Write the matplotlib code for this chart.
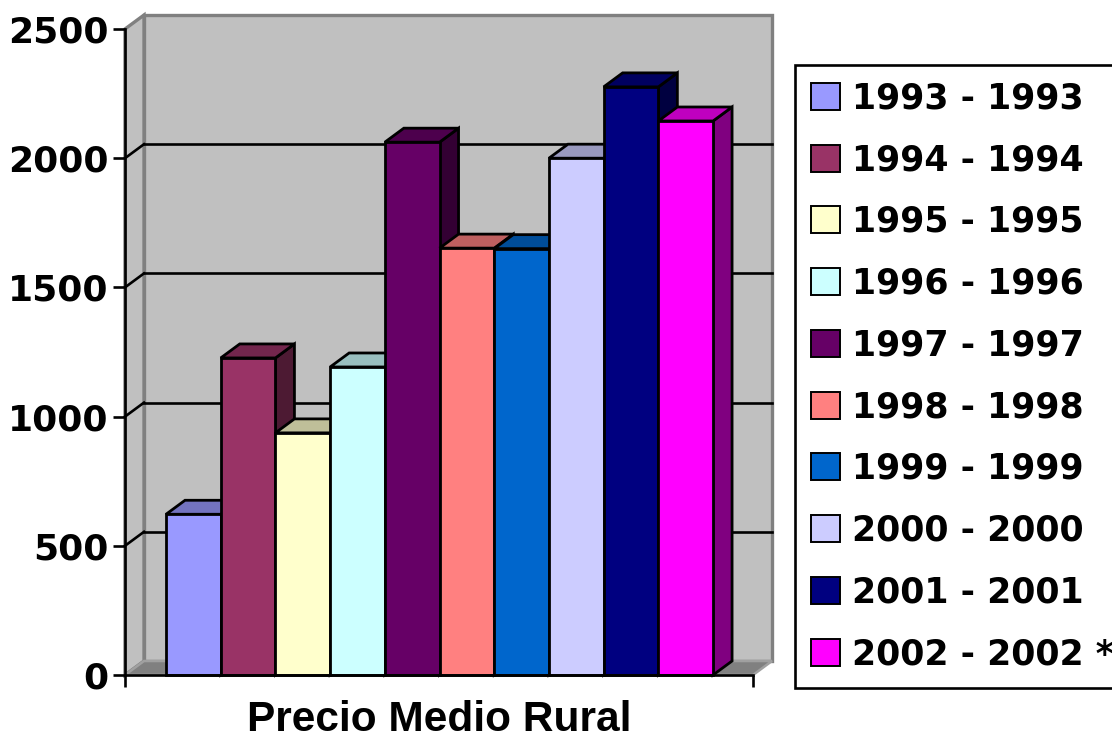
import matplotlib
matplotlib.use("Agg")
import matplotlib.pyplot as plt
from matplotlib.patches import Polygon, Patch
from matplotlib.colors import to_rgb

# ---------------- data ---------------- #
years = ["1993 - 1993", "1994 - 1994", "1995 - 1995", "1996 - 1996", "1997 - 1997",
         "1998 - 1998", "1999 - 1999", "2000 - 2000", "2001 - 2001", "2002 - 2002 *"]
values = [622, 1227, 937, 1192, 2062, 1652, 1650, 2000, 2276, 2144]
colors = ["#9999FF", "#993366", "#FFFFCC", "#CCFFFF", "#660066",
          "#FF8080", "#0066CC", "#CCCCFF", "#000080", "#FF00FF"]
yticks = [0, 500, 1000, 1500, 2000, 2500]
xlabel = "Precio Medio Rural"

# ---------------- style ---------------- #
W, H, DPI = 11.12, 7.42, 100
wall = "#C0C0C0"
floor = "#808080"
edge_gray = "#808080"
depth_px = (19, 14)          # oblique depth offset in pixels
bar_lw = 2.0
grid_lw = 1.9

fig = plt.figure(figsize=(W, H), dpi=DPI)
ax = fig.add_axes([125 / 1112, 67 / 742, 628 / 1112, 646 / 742])
ax.set_facecolor("none")

xmin, xmax = -1.25, 10.23
ymin, ymax = 0, 2500
ax.set_xlim(xmin, xmax)
ax.set_ylim(ymin, ymax)

# convert pixel depth into data units
ax_w_px = 628
ax_h_px = 646
dx = depth_px[0] * (xmax - xmin) / ax_w_px
dy = depth_px[1] * (ymax - ymin) / ax_h_px

# back wall
ax.add_patch(Polygon([(xmin + dx, dy), (xmax + dx, dy), (xmax + dx, ymax + dy), (xmin + dx, ymax + dy)],
                     closed=True, facecolor=wall, edgecolor=edge_gray, lw=2.4, zorder=0.5, clip_on=False))
# side wall
ax.add_patch(Polygon([(xmin, 0), (xmin + dx, dy), (xmin + dx, ymax + dy), (xmin, ymax)],
                     closed=True, facecolor=wall, edgecolor=edge_gray, lw=2.4, zorder=0.6, clip_on=False))
# floor
ax.add_patch(Polygon([(xmin, 0), (xmax, 0), (xmax + dx, dy), (xmin + dx, dy)],
                     closed=True, facecolor=floor, edgecolor="#A0A0A0", lw=1.8, zorder=0.7, clip_on=False))

# gridlines on back wall + side wall
for v in yticks[1:-1]:
    ax.plot([xmin + dx, xmax + dx], [v + dy, v + dy], color="black", lw=grid_lw, zorder=0.8, clip_on=False)
    ax.plot([xmin, xmin + dx], [v, v + dy], color="black", lw=grid_lw, zorder=0.8, clip_on=False)


def shade(c, f):
    r, g, b = to_rgb(c)
    return (r * f, g * f, b * f)


# 3D bars drawn left to right
for i, (v, c) in enumerate(zip(values, colors)):
    x0, x1 = i - 0.5, i + 0.5
    z = 2 + i
    front = Polygon([(x0, 0), (x1, 0), (x1, v), (x0, v)], closed=True,
                    facecolor=c, edgecolor="black", lw=bar_lw, zorder=z, clip_on=False)
    top = Polygon([(x0, v), (x1, v), (x1 + dx, v + dy), (x0 + dx, v + dy)], closed=True,
                  facecolor=shade(c, 0.75), edgecolor="black", lw=bar_lw, zorder=z, clip_on=False)
    side = Polygon([(x1, 0), (x1 + dx, dy), (x1 + dx, v + dy), (x1, v)], closed=True,
                   facecolor=shade(c, 0.5), edgecolor="black", lw=bar_lw, zorder=z, clip_on=False)
    ax.add_patch(side)
    ax.add_patch(top)
    ax.add_patch(front)

# axes
for s in ["top", "right"]:
    ax.spines[s].set_visible(False)
for s in ["left", "bottom"]:
    ax.spines[s].set_linewidth(1.9)
    ax.spines[s].set_zorder(20)
ax.set_yticks(yticks)
ax.set_yticklabels([str(t) for t in yticks], fontsize=26, fontweight="bold", family="DejaVu Sans")
ax.set_xticks([xmin, xmax])
ax.set_xticklabels([])
ax.tick_params(axis="both", direction="out", length=8.6, width=1.9, color="black")
ax.tick_params(axis="y", pad=3.5)
ax.set_xlabel(xlabel, fontsize=30.5, fontweight="bold", family="Liberation Sans", labelpad=6)

# legend
handles = [Patch(facecolor=c, edgecolor="black", lw=1.4) for c in colors]
leg = fig.legend(handles, years, loc="upper left", bbox_to_anchor=(795 / 1112, 1 - 65 / 742),
                 prop={"family": "DejaVu Sans", "weight": "bold", "size": 25},
                 frameon=True, fancybox=False, framealpha=1, edgecolor="black",
                 handlelength=0.82, handleheight=0.82, handletextpad=0.35,
                 labelspacing=0.80, borderpad=0.47, borderaxespad=0)
leg.get_frame().set_linewidth(1.9)

fig.savefig("out.png", dpi=DPI)
